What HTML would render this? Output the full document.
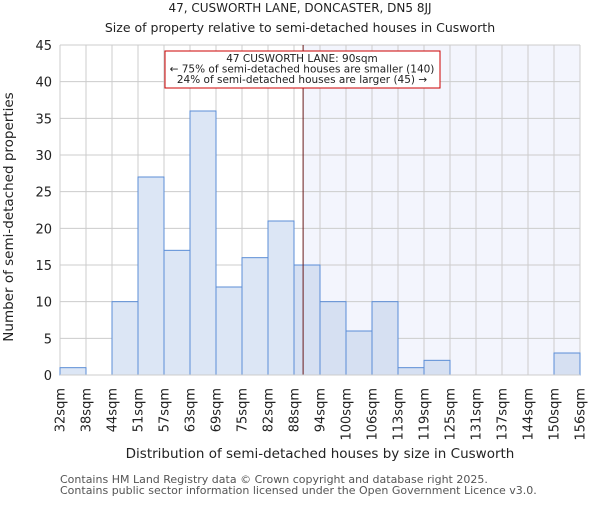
<!DOCTYPE html>
<html><head><meta charset="utf-8"><style>
body{margin:0;background:#fff}
svg text{font-family:"DejaVu Sans","Liberation Sans",sans-serif;fill:#222}
</style></head><body>
<svg id="chart" width="600" height="500" xmlns="http://www.w3.org/2000/svg">
<text x="300" y="12" font-size="12" text-anchor="middle">47, CUSWORTH LANE, DONCASTER, DN5 8JJ</text>
<text x="300" y="32" font-size="12.5" text-anchor="middle">Size of property relative to semi-detached houses in Cusworth</text>
<g id="grid"></g><g id="bars"></g><g id="axes"></g>
<text x="320" y="458" font-size="13.5" text-anchor="middle">Distribution of semi-detached houses by size in Cusworth</text>
<text transform="translate(13,217) rotate(-90)" font-size="13.5" text-anchor="middle">Number of semi-detached properties</text>
<text x="60" y="483" font-size="11" style="fill:#555">Contains HM Land Registry data © Crown copyright and database right 2025.</text>
<text x="60" y="494" font-size="11" style="fill:#555">Contains public sector information licensed under the Open Government Licence v3.0.</text>
</svg>
<script>
const categories=["32sqm","38sqm","44sqm","51sqm","57sqm","63sqm","69sqm","75sqm","82sqm","88sqm","94sqm","100sqm","106sqm","113sqm","119sqm","125sqm","131sqm","137sqm","144sqm","150sqm","156sqm"];
const counts=[1,0,10,27,17,36,12,16,21,15,10,6,10,1,2,0,0,0,0,3];
const yTicks=[0,5,10,15,20,25,30,35,40,45];
const propertyBin=9.35;
const NS="http://www.w3.org/2000/svg";
const L=60,R=580,T=45,B=375,yMax=45;
const bw=(R-L)/counts.length;
const x=i=>L+i*bw;
const y=v=>B-(v/yMax)*(B-T);
function mk(t,a,p){const e=document.createElementNS(NS,t);for(const k in a)e.setAttribute(k,a[k]);p.appendChild(e);return e;}
const grid=document.getElementById('grid'),bars=document.getElementById('bars'),axes=document.getElementById('axes');
const px=x(propertyBin);
const sh=mk('rect',{x:px,y:T,width:R-px,height:B-T,fill:'#f3f5fd'},grid);


yTicks.forEach(v=>{
 const g=mk('line',{x1:L,x2:R,y1:y(v),y2:y(v),stroke:'#ccc','stroke-width':1},grid);
 
 
 const t=mk('text',{x:L-8,y:y(v)+5,'font-size':13,'text-anchor':'end'},axes);t.textContent=v;
 
 
});
categories.forEach((c,i)=>{
 const g=mk('line',{x1:x(i),x2:x(i),y1:T,y2:B,stroke:'#ccc','stroke-width':1},grid);
 
 
 const t=mk('text',{transform:`translate(${x(i)+4.5},388) rotate(-90)`,'font-size':13,'text-anchor':'end'},axes);t.textContent=c;
 
 
});
counts.forEach((v,i)=>{
 if(v<=0)return;
 const r=mk('rect',{x:x(i),y:y(v),width:bw,height:B-y(v),fill:i>=9?'#d6e0f2':'#dce6f5',stroke:'#5b8dd6','stroke-width':1},bars);
 
 
});
const ln=mk('line',{x1:px,x2:px,y1:T,y2:B,stroke:'#6a1a1a','stroke-width':1},bars);


const box=mk('rect',{x:165,y:51,width:275,height:37,fill:'#fff',stroke:'#c00','stroke-width':1},bars);


["47 CUSWORTH LANE: 90sqm","← 75% of semi-detached houses are smaller (140)","24% of semi-detached houses are larger (45) →"].forEach((s,k)=>{
 const t=mk('text',{x:302,y:62+k*10.5,'font-size':10.5,'text-anchor':'middle'},bars);t.textContent=s;
 
 
});
const ax=mk('line',{x1:L,x2:R,y1:B,y2:B,stroke:'#ccc','stroke-width':1},axes);


</script>
</body></html>
